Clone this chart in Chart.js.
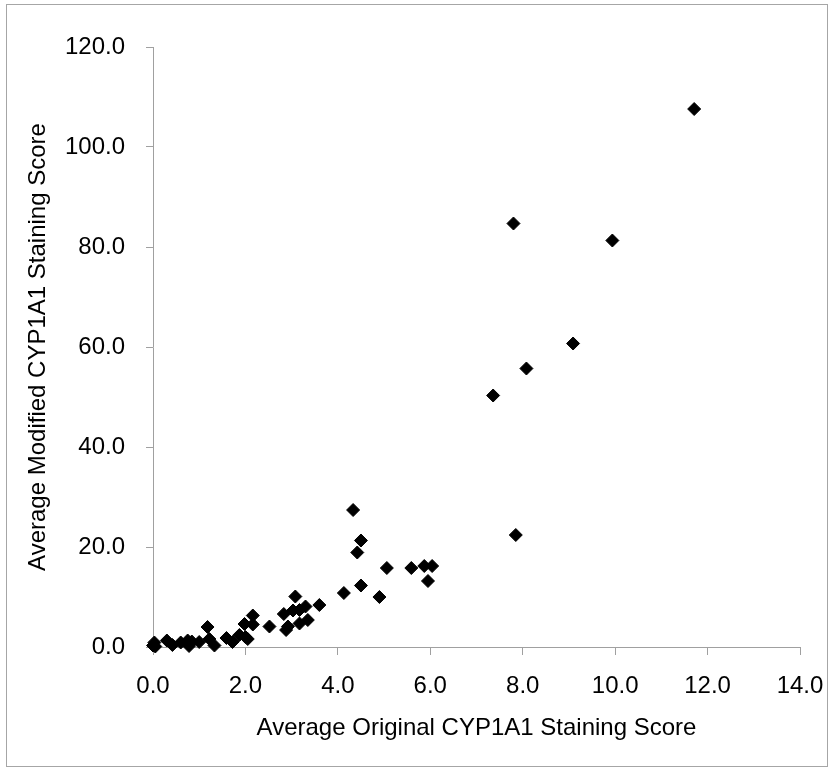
<!DOCTYPE html>
<html>
<head>
<meta charset="utf-8">
<script src="https://cdn.jsdelivr.net/npm/chart.js@4.4.1/dist/chart.umd.min.js"></script>
<style>
  html, body { margin: 0; padding: 0; background: #ffffff; }
  #wrap { position: relative; width: 835px; height: 771px; }
  #frame { position: absolute; left: 6px; top: 4px; width: 822px; height: 763px; border: 1px solid #a6a6a6; box-sizing: border-box; pointer-events: none; }
  canvas { position: absolute; left: 0; top: 0; }
</style>
</head>
<body>
<div id="wrap">
  <canvas id="c" width="835" height="771"></canvas>
  <div id="frame"></div>
</div>
<script>
// Average Original CYP1A1 Staining Score (x)
const originalScore = [0.0,0.03,0.05,0.3,0.42,0.6,0.75,0.78,0.84,1.0,1.18,1.22,1.33,1.59,1.72,1.87,1.98,2.0,2.05,2.16,2.16,2.52,2.83,2.88,2.92,3.03,3.08,3.17,3.17,3.3,3.35,3.6,4.13,4.33,4.42,4.5,4.5,4.9,5.06,5.59,5.87,5.95,6.04,7.36,7.8,7.85,8.08,9.09,9.94,11.71];
// Average Modified CYP1A1 Staining Score (y)
const modifiedScore = [0.3,0.9,0.1,1.3,0.4,0.9,1.3,0.2,1.1,1.0,4.0,1.6,0.3,1.8,1.0,2.4,4.6,2.0,1.6,6.3,4.5,4.1,6.6,3.4,4.1,7.3,10.1,7.4,4.7,8.1,5.4,8.4,10.8,27.4,18.9,21.3,12.3,10.0,15.8,15.8,16.2,13.2,16.2,50.3,84.7,22.4,55.7,60.7,81.3,107.6];
const xTitle = "Average Original CYP1A1 Staining Score";
const yTitle = "Average Modified CYP1A1 Staining Score";

const points = originalScore.map((x, i) => ({ x: x, y: modifiedScore[i] }));
const FONT = "'Liberation Sans', Arial, sans-serif";
const AXIS = '#a0a0a0';

new Chart(document.getElementById('c'), {
  type: 'scatter',
  data: {
    datasets: [{
      data: points,
      clip: false,
      pointStyle: 'rectRot',
      pointRadius: 6.5,
      pointBorderWidth: 1,
      backgroundColor: '#000000',
      borderColor: '#000000'
    }]
  },
  options: {
    responsive: false,
    animation: false,
    layout: { padding: { left: 0, right: 35, top: 47, bottom: 0 } },
    plugins: { legend: { display: false }, tooltip: { enabled: false } },
    scales: {
      x: {
        type: 'linear',
        min: 0, max: 14,
        afterFit: s => { s.height = 124; s.paddingRight = 0; s.paddingLeft = 0; },
        ticks: {
          stepSize: 2,
          color: '#000',
          font: { family: FONT, size: 24 },
          padding: 17,
          maxRotation: 0,
          callback: v => Number(v).toFixed(1)
        },
        grid: { drawOnChartArea: false, drawTicks: true, tickLength: 8, color: AXIS },
        border: { color: AXIS, width: 1 },
        title: {
          display: true, text: xTitle, color: '#000',
          font: { family: FONT, size: 24 },
          padding: { top: 0, bottom: 28 }
        }
      },
      y: {
        type: 'linear',
        min: 0, max: 120,
        afterFit: s => { s.width = 153; s.paddingTop = 0; s.paddingBottom = 0; },
        ticks: {
          stepSize: 20,
          color: '#000',
          font: { family: FONT, size: 24 },
          padding: 21,
          callback: v => Number(v).toFixed(1)
        },
        grid: { drawOnChartArea: false, drawTicks: true, tickLength: 7, color: AXIS },
        border: { color: AXIS, width: 1 },
        title: {
          display: true, text: yTitle, color: '#000',
          font: { family: FONT, size: 24 },
          padding: { top: 24, bottom: 0 }
        }
      }
    }
  }
});
</script>
</body>
</html>
